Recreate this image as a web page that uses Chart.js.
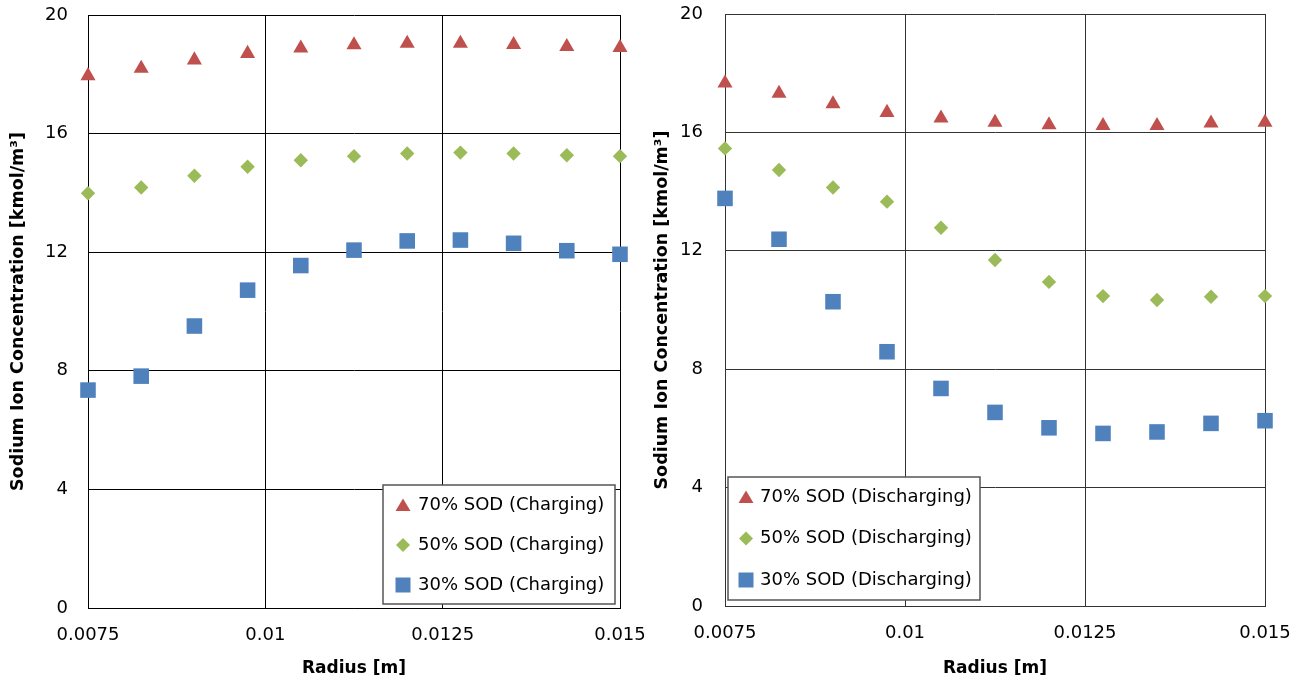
<!DOCTYPE html>
<html>
<head>
<meta charset="utf-8">
<script src="https://cdn.jsdelivr.net/npm/chart.js@4"></script>
<style>
  body { margin: 0; background: #fff; width: 1307px; height: 681px; overflow: hidden; }
  canvas { position: absolute; top: 0; }
  #chargeChart { left: 0; }
  #dischargeChart { left: 650px; }
</style>
</head>
<body>
<canvas id="chargeChart" width="650" height="681"></canvas>
<canvas id="dischargeChart" width="657" height="681"></canvas>
<script>
// radius positions [m]
const radius = [0.0075, 0.00825, 0.009, 0.00975, 0.0105, 0.01125, 0.012, 0.01275, 0.0135, 0.01425, 0.015];

// charging
const charge70 = [17.95, 18.2, 18.48, 18.7, 18.88, 18.99, 19.04, 19.04, 19.0, 18.93, 18.9];
const charge50 = [13.99, 14.18, 14.58, 14.88, 15.1, 15.24, 15.33, 15.36, 15.33, 15.27, 15.24];
const charge30 = [7.35, 7.82, 9.51, 10.72, 11.55, 12.07, 12.38, 12.41, 12.3, 12.05, 11.93];

// discharging
const discharge70 = [17.66, 17.32, 16.96, 16.67, 16.48, 16.34, 16.25, 16.23, 16.23, 16.31, 16.34];
const discharge50 = [15.46, 14.73, 14.14, 13.66, 12.78, 11.69, 10.95, 10.47, 10.34, 10.45, 10.47];
const discharge30 = [13.77, 12.39, 10.28, 8.59, 7.35, 6.54, 6.02, 5.83, 5.88, 6.17, 6.26];

const xTicks = [0.0075, 0.01, 0.0125, 0.015];
const yTicks = [0, 4, 8, 12, 16, 20];

const FONT = "'DejaVu Sans', sans-serif";
const RED = "#C0504D", GREEN = "#9BBB59", BLUE = "#4F81BD";

function toPoints(values) {
  return values.map((v, i) => ({ x: radius[i], y: v }));
}

function drawMarker(ctx, style, x, y, color) {
  ctx.fillStyle = color;
  ctx.beginPath();
  if (style === "triangle") {
    ctx.moveTo(x, y - 6.5);
    ctx.lineTo(x + 7.5, y + 6);
    ctx.lineTo(x - 7.5, y + 6);
  } else if (style === "rectRot") {
    ctx.moveTo(x, y - 7);
    ctx.lineTo(x + 7, y);
    ctx.lineTo(x, y + 7);
    ctx.lineTo(x - 7, y);
  } else {
    ctx.rect(x - 7.5, y - 7.5, 15, 15);
  }
  ctx.closePath();
  ctx.fill();
}

// legend drawn as a bordered box inside the plot area
const boxLegend = {
  id: "boxLegend",
  afterDatasetsDraw(chart, args, opts) {
    const { ctx, chartArea } = chart;
    const x0 = opts.side === "right"
      ? chartArea.right - opts.inset - opts.width
      : chartArea.left + opts.inset;
    const y0 = chartArea.bottom - opts.bottomInset - opts.height;
    ctx.save();
    ctx.fillStyle = "#fff";
    ctx.fillRect(x0, y0, opts.width, opts.height);
    ctx.strokeStyle = "#555";
    ctx.lineWidth = 1.5;
    ctx.strokeRect(x0, y0, opts.width, opts.height);
    ctx.font = "18px " + FONT;
    ctx.textBaseline = "middle";
    chart.data.datasets.forEach((ds, i) => {
      const cy = y0 + opts.firstRow + i * opts.rowGap;
      drawMarker(ctx, ds.pointStyle, x0 + opts.markerX, cy, ds.backgroundColor);
      ctx.fillStyle = "#000";
      ctx.fillText(ds.label, x0 + opts.textX, cy);
    });
    ctx.restore();
  }
};

function makeChart(id, labels, series, layout) {
  const styles = [
    { pointStyle: "triangle", color: RED, radius: 8.7 },
    { pointStyle: "rectRot", color: GREEN, radius: 7.2 },
    { pointStyle: "rect", color: BLUE, radius: 11 }
  ];
  const datasets = series.map((vals, i) => ({
    label: labels[i],
    data: toPoints(vals),
    pointStyle: styles[i].pointStyle,
    pointRadius: styles[i].radius,
    pointHoverRadius: styles[i].radius,
    backgroundColor: styles[i].color,
    borderColor: styles[i].color,
    borderWidth: 0,
    showLine: false,
    clip: false
  }));

  return new Chart(document.getElementById(id), {
    type: "scatter",
    data: { datasets },
    plugins: [boxLegend],
    options: {
      responsive: false,
      animation: false,
      layout: { padding: { top: layout.top, right: layout.right, left: 0, bottom: 0 } },
      plugins: {
        legend: { display: false },
        tooltip: { enabled: false },
        boxLegend: layout.legend
      },
      scales: {
        x: {
          type: "linear",
          min: 0.0075,
          max: 0.015,
          afterBuildTicks: (axis) => { axis.ticks = xTicks.map((v) => ({ value: v })); },
          afterFit: (axis) => {
            axis.height = layout.xHeight;
            axis.paddingLeft = 0;
            axis.paddingRight = 0;
          },
          grid: { color: layout.grid, lineWidth: 1, drawTicks: false },
          border: { color: layout.grid, width: 1 },
          ticks: {
            padding: 17,
            color: "#000",
            font: { family: FONT, size: 18 },
            maxRotation: 0,
            callback: (v) => String(+Number(v).toFixed(5))
          },
          title: {
            display: true,
            text: "Radius [m]",
            color: "#000",
            font: { family: FONT, size: 17, weight: "bold" },
            padding: { top: 0, bottom: 2 }
          }
        },
        y: {
          min: 0,
          max: 20,
          afterBuildTicks: (axis) => { axis.ticks = yTicks.map((v) => ({ value: v })); },
          afterFit: (axis) => {
            axis.width = layout.yWidth;
            axis.paddingTop = 0;
            axis.paddingBottom = 0;
          },
          grid: { color: layout.grid, lineWidth: 1, drawTicks: false },
          border: { color: layout.grid, width: 1 },
          ticks: {
            padding: layout.tickPad,
            color: "#000",
            font: { family: FONT, size: 18 }
          },
          title: {
            display: true,
            text: "Sodium Ion Concentration [kmol/m³]",
            color: "#000",
            font: { family: FONT, size: 17.5, weight: "bold" },
            padding: { top: layout.titlePad, bottom: 0 }
          }
        }
      }
    }
  });
}

makeChart("chargeChart",
  ["70% SOD (Charging)", "50% SOD (Charging)", "30% SOD (Charging)"],
  [charge70, charge50, charge30],
  {
    top: 15, right: 30, xHeight: 73, yWidth: 88, tickPad: 20, titlePad: 8, grid: "#000",
    legend: { side: "right", inset: 5, bottomInset: 4, width: 232, height: 119,
              firstRow: 20, rowGap: 40, markerX: 20, textX: 35 }
  });

makeChart("dischargeChart",
  ["70% SOD (Discharging)", "50% SOD (Discharging)", "30% SOD (Discharging)"],
  [discharge70, discharge50, discharge30],
  {
    top: 14, right: 42, xHeight: 75, yWidth: 75, tickPad: 22, titlePad: 2, grid: "#333",
    legend: { side: "left", inset: 3, bottomInset: 6, width: 252, height: 123,
              firstRow: 20, rowGap: 41.5, markerX: 18, textX: 32 }
  });
</script>
</body>
</html>
